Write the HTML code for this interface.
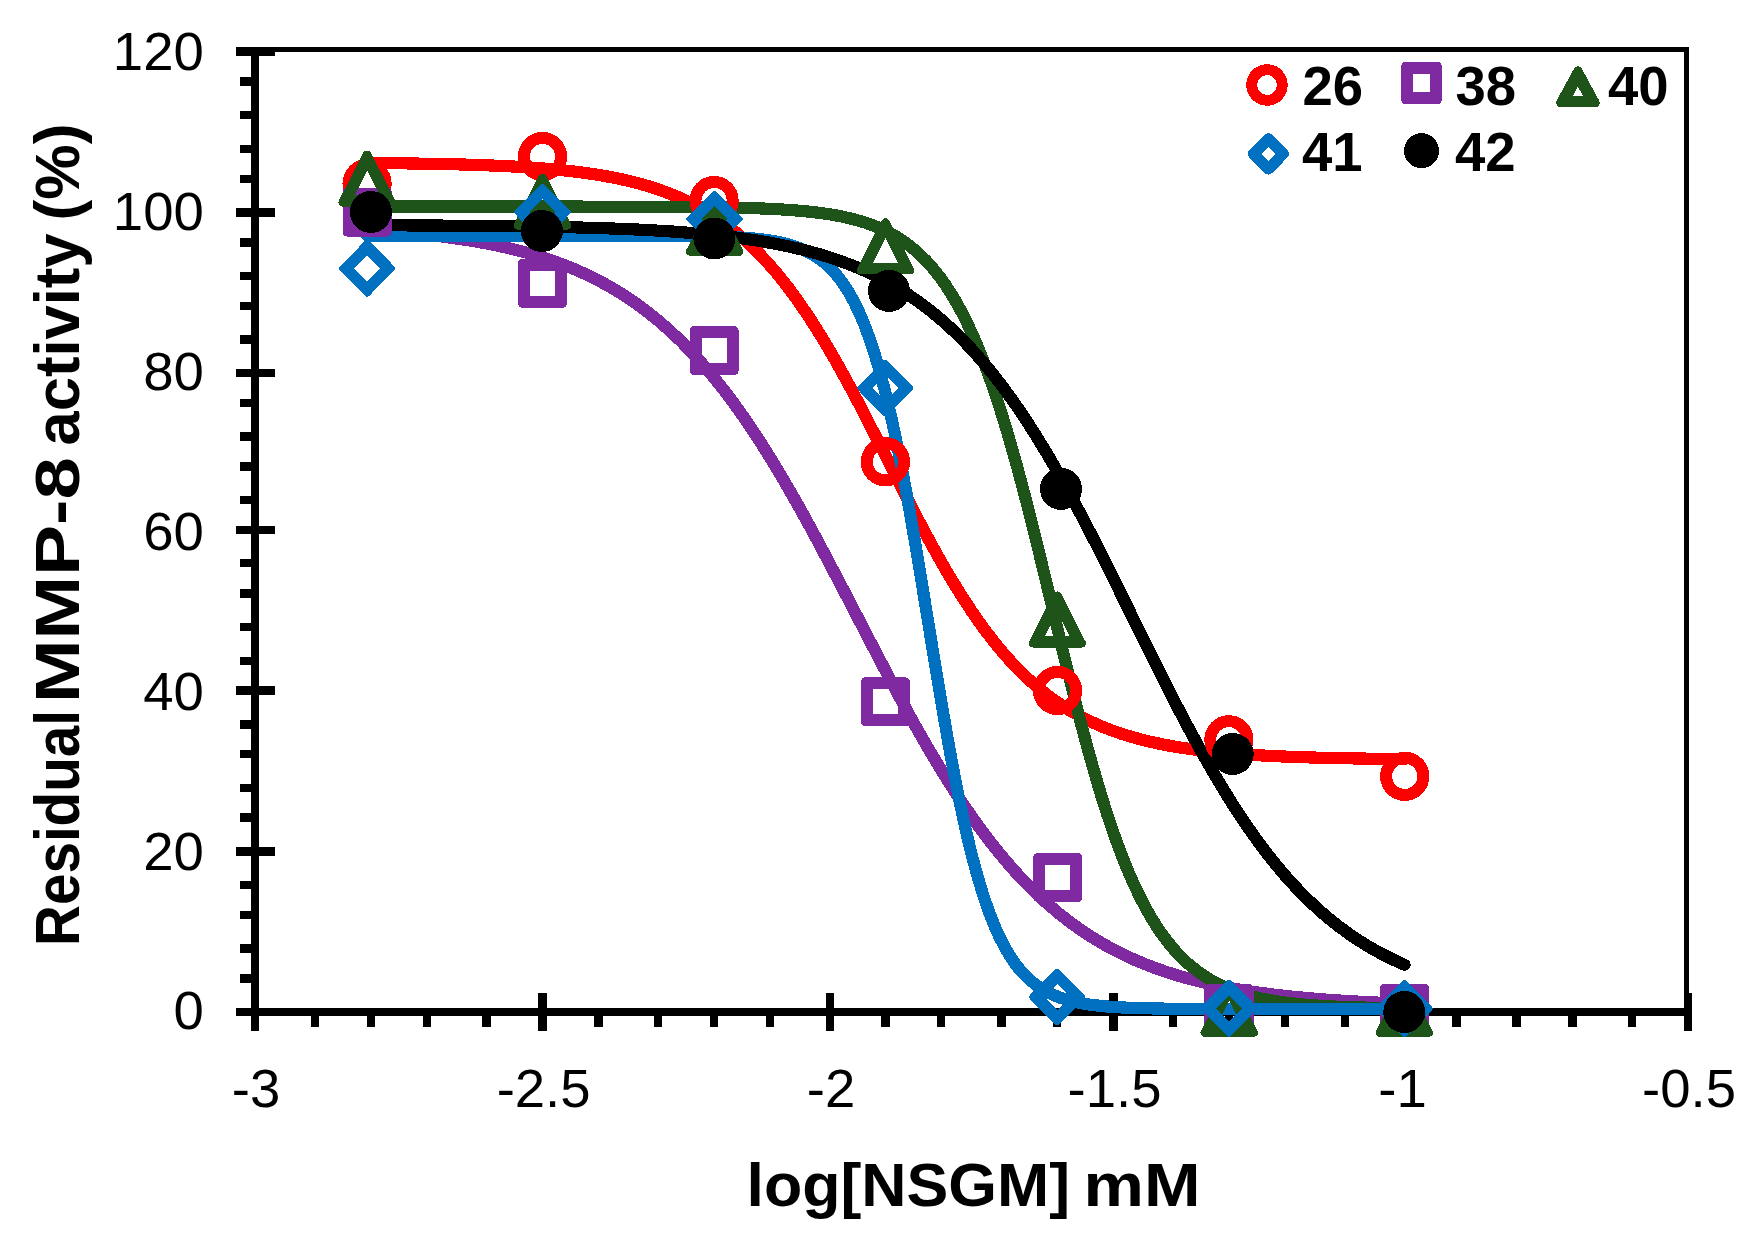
<!DOCTYPE html>
<html lang="en">
<head>
<meta charset="utf-8">
<title>Residual MMP-8 activity vs log[NSGM]</title>
<style>
html,body{margin:0;padding:0;background:#fff;}
body{width:1754px;height:1236px;overflow:hidden;}
svg{display:block;}
.t{font-family:"Liberation Sans",sans-serif;fill:#000;}
.b{font-weight:bold;}
</style>
</head>
<body>
<svg width="1754" height="1236" viewBox="0 0 1754 1236">
<rect x="0" y="0" width="1754" height="1236" fill="#fff"/>
<g fill="#000" shape-rendering="crispEdges">
<rect x="236" y="47" width="1453" height="5"/>
<rect x="1684" y="47" width="5" height="984"/>
<rect x="251" y="47" width="8" height="984"/>
<rect x="236" y="1008" width="1456" height="8"/>
<rect x="236" y="47.2" width="39" height="8.6"/>
<rect x="240" y="77.3" width="12" height="8.3"/>
<rect x="240" y="110.8" width="12" height="8.3"/>
<rect x="240" y="144.8" width="12" height="8.3"/>
<rect x="240" y="174.8" width="12" height="8.3"/>
<rect x="236" y="208.1" width="39" height="8.6"/>
<rect x="240" y="238.2" width="12" height="8.3"/>
<rect x="240" y="271.8" width="12" height="8.3"/>
<rect x="240" y="301.7" width="12" height="8.3"/>
<rect x="240" y="335.2" width="12" height="8.3"/>
<rect x="236" y="368.6" width="39" height="8.6"/>
<rect x="240" y="398.8" width="12" height="8.3"/>
<rect x="240" y="432.4" width="12" height="8.3"/>
<rect x="240" y="462.2" width="12" height="8.3"/>
<rect x="240" y="495.8" width="12" height="8.3"/>
<rect x="236" y="525.5" width="39" height="8.6"/>
<rect x="240" y="559.1" width="12" height="8.3"/>
<rect x="240" y="589.4" width="12" height="8.3"/>
<rect x="240" y="622.8" width="12" height="8.3"/>
<rect x="240" y="656.9" width="12" height="8.3"/>
<rect x="236" y="686.1" width="39" height="8.6"/>
<rect x="240" y="720.2" width="12" height="8.3"/>
<rect x="240" y="749.9" width="12" height="8.3"/>
<rect x="240" y="783.9" width="12" height="8.3"/>
<rect x="240" y="813.2" width="12" height="8.3"/>
<rect x="236" y="847.2" width="39" height="8.6"/>
<rect x="240" y="880.6" width="12" height="8.3"/>
<rect x="240" y="910.9" width="12" height="8.3"/>
<rect x="240" y="944.4" width="12" height="8.3"/>
<rect x="240" y="974.4" width="12" height="8.3"/>
<rect x="236" y="1007.7" width="39" height="8.6"/>
<rect x="250.7" y="993" width="8.6" height="38"/>
<rect x="310.9" y="1015" width="8.2" height="12"/>
<rect x="367" y="1015" width="8.2" height="12"/>
<rect x="423" y="1015" width="8.2" height="12"/>
<rect x="482.3" y="1015" width="8.2" height="12"/>
<rect x="538.3" y="993" width="8.6" height="38"/>
<rect x="594.4" y="1015" width="8.2" height="12"/>
<rect x="653.9" y="1015" width="8.2" height="12"/>
<rect x="709.9" y="1015" width="8.2" height="12"/>
<rect x="765.8" y="1015" width="8.2" height="12"/>
<rect x="825.7" y="993" width="8.6" height="38"/>
<rect x="881.3" y="1015" width="8.2" height="12"/>
<rect x="937" y="1015" width="8.2" height="12"/>
<rect x="997.3" y="1015" width="8.2" height="12"/>
<rect x="1053.2" y="1015" width="8.2" height="12"/>
<rect x="1109.2" y="993" width="8.6" height="38"/>
<rect x="1168.7" y="1015" width="8.2" height="12"/>
<rect x="1224.9" y="1015" width="8.2" height="12"/>
<rect x="1280.8" y="1015" width="8.2" height="12"/>
<rect x="1340.5" y="1015" width="8.2" height="12"/>
<rect x="1397.2" y="993" width="8.6" height="38"/>
<rect x="1452.3" y="1015" width="8.2" height="12"/>
<rect x="1512.4" y="1015" width="8.2" height="12"/>
<rect x="1568.4" y="1015" width="8.2" height="12"/>
<rect x="1627.9" y="1015" width="8.2" height="12"/>
<rect x="1683.7" y="993" width="8.6" height="38"/>
</g>
<g class="t" font-size="54.5">
<text x="203.8" y="1029.4" text-anchor="end">0</text>
<text x="203.8" y="869.6" text-anchor="end">20</text>
<text x="203.8" y="709.7" text-anchor="end">40</text>
<text x="203.8" y="549.9" text-anchor="end">60</text>
<text x="203.8" y="390.1" text-anchor="end">80</text>
<text x="203.8" y="230.3" text-anchor="end">100</text>
<text x="203.8" y="70.4" text-anchor="end">120</text>
<text x="256" y="1107" text-anchor="middle">-3</text>
<text x="543.6" y="1107" text-anchor="middle">-2.5</text>
<text x="831" y="1107" text-anchor="middle">-2</text>
<text x="1114.5" y="1107" text-anchor="middle">-1.5</text>
<text x="1402.5" y="1107" text-anchor="middle">-1</text>
<text x="1689" y="1107" text-anchor="middle">-0.5</text>
</g>
<text class="t b" font-size="61.5" y="1205.6"><tspan x="746.5" textLength="323.5" lengthAdjust="spacingAndGlyphs">log[NSGM]</tspan> <tspan x="1083.5" textLength="117.0" lengthAdjust="spacingAndGlyphs">mM</tspan></text>
<text class="t b" font-size="62.5" transform="translate(79.1 942.6) rotate(-90)"><tspan x="-3.4" textLength="236.0" lengthAdjust="spacingAndGlyphs">Residual</tspan> <tspan x="239.6" textLength="246.0" lengthAdjust="spacingAndGlyphs">MMP-8</tspan> <tspan x="497.1" textLength="212.0" lengthAdjust="spacingAndGlyphs">activity</tspan> <tspan x="722.1" textLength="97.0" lengthAdjust="spacingAndGlyphs">(%)</tspan></text>
<g fill="none" stroke-width="12.2" stroke-linecap="round" stroke-linejoin="round" shape-rendering="crispEdges">
<path d="M367.10 163.00 C374.30 163.06 381.51 163.12 388.71 163.20 C395.92 163.27 403.12 163.36 410.33 163.46 C417.53 163.56 424.73 163.68 431.94 163.81 C439.14 163.94 446.35 164.09 453.55 164.27 C460.75 164.45 467.96 164.65 475.16 164.89 C482.37 165.12 489.57 165.39 496.78 165.71 C503.98 166.02 511.18 166.38 518.39 166.79 C525.59 167.21 532.80 167.68 540.00 168.23 C547.20 168.79 554.41 169.41 561.61 170.14 C568.82 170.87 576.02 171.70 583.22 172.67 C590.43 173.63 597.63 174.73 604.84 176.00 C612.04 177.27 619.25 178.71 626.45 180.37 C633.65 182.04 640.86 183.93 648.06 186.10 C655.27 188.28 662.47 190.74 669.67 193.56 C676.88 196.38 684.08 199.57 691.29 203.20 C698.49 206.83 705.70 210.91 712.90 215.54 C720.10 220.17 727.31 225.34 734.51 231.15 C741.72 236.97 748.92 243.43 756.12 250.61 C763.33 257.80 770.53 265.71 777.74 274.41 C784.94 283.11 792.15 292.59 799.35 302.86 C806.55 313.13 813.76 324.18 820.96 335.95 C828.17 347.72 835.37 360.20 842.58 373.24 C849.78 386.28 856.98 399.87 864.19 413.79 C871.39 427.70 878.60 441.94 885.80 456.21 C893.00 470.47 900.21 484.77 907.41 498.82 C914.62 512.86 921.82 526.65 929.03 539.92 C936.23 553.20 943.43 565.97 950.64 578.05 C957.84 590.13 965.05 601.52 972.25 612.14 C979.45 622.76 986.66 632.60 993.86 641.65 C1001.07 650.70 1008.27 658.97 1015.47 666.48 C1022.68 674.00 1029.88 680.77 1037.09 686.88 C1044.29 692.99 1051.50 698.44 1058.70 703.31 C1065.90 708.19 1073.11 712.50 1080.31 716.34 C1087.52 720.18 1094.72 723.55 1101.92 726.54 C1109.13 729.53 1116.33 732.14 1123.54 734.45 C1130.74 736.76 1137.95 738.77 1145.15 740.54 C1152.35 742.31 1159.56 743.84 1166.76 745.19 C1173.97 746.54 1181.17 747.70 1188.38 748.73 C1195.58 749.76 1202.78 750.64 1209.99 751.42 C1217.19 752.19 1224.40 752.86 1231.60 753.45 C1238.80 754.04 1246.01 754.54 1253.21 754.99 C1260.42 755.43 1267.62 755.81 1274.82 756.15 C1282.03 756.48 1289.23 756.77 1296.44 757.02 C1303.64 757.27 1310.85 757.49 1318.05 757.67 C1325.25 757.86 1332.46 758.03 1339.66 758.17 C1346.87 758.31 1354.07 758.43 1361.28 758.54 C1368.48 758.65 1375.68 758.74 1382.89 758.82 C1390.09 758.90 1397.30 758.97 1404.50 759.03" stroke="#FF0000"/>
<path d="M367.10 229.86 C374.30 230.30 381.51 230.78 388.71 231.32 C395.92 231.86 403.12 232.45 410.33 233.12 C417.53 233.78 424.73 234.51 431.94 235.33 C439.14 236.15 446.35 237.05 453.55 238.06 C460.75 239.06 467.96 240.17 475.16 241.40 C482.37 242.63 489.57 243.99 496.78 245.50 C503.98 247.01 511.18 248.67 518.39 250.52 C525.59 252.36 532.80 254.39 540.00 256.63 C547.20 258.88 554.41 261.34 561.61 264.07 C568.82 266.79 576.02 269.78 583.22 273.07 C590.43 276.36 597.63 279.96 604.84 283.91 C612.04 287.87 619.25 292.18 626.45 296.90 C633.65 301.62 640.86 306.75 648.06 312.34 C655.27 317.93 662.47 323.99 669.67 330.55 C676.88 337.11 684.08 344.19 691.29 351.81 C698.49 359.43 705.70 367.60 712.90 376.34 C720.10 385.08 727.31 394.39 734.51 404.27 C741.72 414.15 748.92 424.61 756.12 435.60 C763.33 446.59 770.53 458.13 777.74 470.14 C784.94 482.15 792.15 494.64 799.35 507.51 C806.55 520.38 813.76 533.63 820.96 547.14 C828.17 560.64 835.37 574.40 842.58 588.26 C849.78 602.12 856.98 616.08 864.19 629.99 C871.39 643.89 878.60 657.75 885.80 671.39 C893.00 685.03 900.21 698.46 907.41 711.55 C914.62 724.64 921.82 737.38 929.03 749.67 C936.23 761.96 943.43 773.80 950.64 785.12 C957.84 796.43 965.05 807.22 972.25 817.44 C979.45 827.66 986.66 837.32 993.86 846.40 C1001.07 855.49 1008.27 864.00 1015.47 871.95 C1022.68 879.91 1029.88 887.30 1037.09 894.18 C1044.29 901.05 1051.50 907.40 1058.70 913.28 C1065.90 919.15 1073.11 924.55 1080.31 929.52 C1087.52 934.50 1094.72 939.04 1101.92 943.22 C1109.13 947.39 1116.33 951.20 1123.54 954.68 C1130.74 958.16 1137.95 961.32 1145.15 964.20 C1152.35 967.09 1159.56 969.70 1166.76 972.08 C1173.97 974.46 1181.17 976.62 1188.38 978.57 C1195.58 980.53 1202.78 982.30 1209.99 983.90 C1217.19 985.50 1224.40 986.95 1231.60 988.26 C1238.80 989.57 1246.01 990.75 1253.21 991.81 C1260.42 992.88 1267.62 993.84 1274.82 994.71 C1282.03 995.58 1289.23 996.36 1296.44 997.07 C1303.64 997.78 1310.85 998.41 1318.05 998.99 C1325.25 999.56 1332.46 1000.08 1339.66 1000.54 C1346.87 1001.01 1354.07 1001.42 1361.28 1001.80 C1368.48 1002.18 1375.68 1002.52 1382.89 1002.82 C1390.09 1003.13 1397.30 1003.40 1404.50 1003.65" stroke="#7F2AA0"/>
<path d="M367.10 206.56 C374.30 206.56 381.51 206.56 388.71 206.56 C395.92 206.56 403.12 206.56 410.33 206.56 C417.53 206.56 424.73 206.56 431.94 206.56 C439.14 206.56 446.35 206.56 453.55 206.56 C460.75 206.56 467.96 206.57 475.16 206.57 C482.37 206.57 489.57 206.57 496.78 206.57 C503.98 206.57 511.18 206.57 518.39 206.57 C525.59 206.57 532.80 206.58 540.00 206.58 C547.20 206.58 554.41 206.59 561.61 206.59 C568.82 206.60 576.02 206.60 583.22 206.61 C590.43 206.61 597.63 206.62 604.84 206.63 C612.04 206.64 619.25 206.66 626.45 206.68 C633.65 206.69 640.86 206.71 648.06 206.74 C655.27 206.77 662.47 206.80 669.67 206.84 C676.88 206.88 684.08 206.94 691.29 207.00 C698.49 207.07 705.70 207.15 712.90 207.25 C720.10 207.35 727.31 207.48 734.51 207.64 C741.72 207.80 748.92 208.00 756.12 208.25 C763.33 208.51 770.53 208.81 777.74 209.21 C784.94 209.60 792.15 210.09 799.35 210.70 C806.55 211.32 813.76 212.07 820.96 213.03 C828.17 214.00 835.37 215.17 842.58 216.66 C849.78 218.15 856.98 219.97 864.19 222.28 C871.39 224.58 878.60 227.38 885.80 230.92 C893.00 234.46 900.21 238.73 907.41 244.09 C914.62 249.45 921.82 255.89 929.03 263.85 C936.23 271.82 943.43 281.32 950.64 292.86 C957.84 304.39 965.05 317.97 972.25 334.03 C979.45 350.08 986.66 368.64 993.86 389.81 C1001.07 410.99 1008.27 434.80 1015.47 460.81 C1022.68 486.82 1029.88 515.02 1037.09 544.31 C1044.29 573.60 1051.50 603.94 1058.70 633.85 C1065.90 663.76 1073.11 693.20 1080.31 720.85 C1087.52 748.50 1094.72 774.33 1101.92 797.63 C1109.13 820.94 1116.33 841.71 1123.54 859.88 C1130.74 878.04 1137.95 893.61 1145.15 906.93 C1152.35 920.25 1159.56 931.34 1166.76 940.67 C1173.97 950.01 1181.17 957.61 1188.38 963.96 C1195.58 970.30 1202.78 975.38 1209.99 979.60 C1217.19 983.81 1224.40 987.16 1231.60 989.92 C1238.80 992.68 1246.01 994.86 1253.21 996.65 C1260.42 998.45 1267.62 999.85 1274.82 1001.01 C1282.03 1002.17 1289.23 1003.07 1296.44 1003.82 C1303.64 1004.56 1310.85 1005.14 1318.05 1005.62 C1325.25 1006.09 1332.46 1006.46 1339.66 1006.77 C1346.87 1007.07 1354.07 1007.31 1361.28 1007.51 C1368.48 1007.70 1375.68 1007.85 1382.89 1007.98 C1390.09 1008.10 1397.30 1008.20 1404.50 1008.28" stroke="#1E5319"/>
<path d="M367.10 235.56 C374.30 235.56 381.51 235.56 388.71 235.56 C395.92 235.56 403.12 235.56 410.33 235.56 C417.53 235.56 424.73 235.56 431.94 235.56 C439.14 235.56 446.35 235.56 453.55 235.56 C460.75 235.56 467.96 235.56 475.16 235.56 C482.37 235.56 489.57 235.56 496.78 235.56 C503.98 235.56 511.18 235.56 518.39 235.56 C525.59 235.56 532.80 235.56 540.00 235.56 C547.20 235.56 554.41 235.56 561.61 235.56 C568.82 235.56 576.02 235.57 583.22 235.57 C590.43 235.57 597.63 235.58 604.84 235.58 C612.04 235.59 619.25 235.60 626.45 235.61 C633.65 235.62 640.86 235.63 648.06 235.66 C655.27 235.68 662.47 235.71 669.67 235.76 C676.88 235.80 684.08 235.86 691.29 235.96 C698.49 236.05 705.70 236.17 712.90 236.36 C720.10 236.54 727.31 236.78 734.51 237.15 C741.72 237.51 748.92 238.00 756.12 238.72 C763.33 239.45 770.53 240.41 777.74 241.84 C784.94 243.28 792.15 245.18 799.35 247.99 C806.55 250.80 813.76 254.52 820.96 259.96 C828.17 265.39 835.37 272.54 842.58 282.73 C849.78 292.91 856.98 306.17 864.19 324.23 C871.39 342.28 878.60 365.25 885.80 394.26 C893.00 423.28 900.21 458.47 907.41 498.38 C914.62 538.29 921.82 582.82 929.03 627.29 C936.23 671.76 943.43 715.86 950.64 755.09 C957.84 794.32 965.05 828.61 972.25 856.74 C979.45 884.87 986.66 906.99 993.86 924.34 C1001.07 941.68 1008.27 954.36 1015.47 964.10 C1022.68 973.83 1029.88 980.64 1037.09 985.82 C1044.29 991.00 1051.50 994.54 1058.70 997.21 C1065.90 999.89 1073.11 1001.69 1080.31 1003.06 C1087.52 1004.42 1094.72 1005.33 1101.92 1006.02 C1109.13 1006.71 1116.33 1007.17 1123.54 1007.52 C1130.74 1007.87 1137.95 1008.10 1145.15 1008.27 C1152.35 1008.45 1159.56 1008.56 1166.76 1008.65 C1173.97 1008.74 1181.17 1008.80 1188.38 1008.84 C1195.58 1008.88 1202.78 1008.91 1209.99 1008.93 C1217.19 1008.96 1224.40 1008.97 1231.60 1008.98 C1238.80 1008.99 1246.01 1009.00 1253.21 1009.01 C1260.42 1009.01 1267.62 1009.02 1274.82 1009.02 C1282.03 1009.02 1289.23 1009.02 1296.44 1009.02 C1303.64 1009.03 1310.85 1009.03 1318.05 1009.03 C1325.25 1009.03 1332.46 1009.03 1339.66 1009.03 C1346.87 1009.03 1354.07 1009.03 1361.28 1009.03 C1368.48 1009.03 1375.68 1009.03 1382.89 1009.03 C1390.09 1009.03 1397.30 1009.03 1404.50 1009.03" stroke="#0070C0"/>
<path d="M367.10 225.27 C374.30 225.29 381.51 225.31 388.71 225.34 C395.92 225.36 403.12 225.39 410.33 225.43 C417.53 225.46 424.73 225.49 431.94 225.54 C439.14 225.58 446.35 225.62 453.55 225.67 C460.75 225.72 467.96 225.78 475.16 225.84 C482.37 225.91 489.57 225.98 496.78 226.06 C503.98 226.13 511.18 226.22 518.39 226.32 C525.59 226.42 532.80 226.53 540.00 226.66 C547.20 226.78 554.41 226.92 561.61 227.07 C568.82 227.23 576.02 227.40 583.22 227.60 C590.43 227.79 597.63 228.01 604.84 228.25 C612.04 228.49 619.25 228.76 626.45 229.06 C633.65 229.37 640.86 229.70 648.06 230.08 C655.27 230.46 662.47 230.88 669.67 231.35 C676.88 231.82 684.08 232.35 691.29 232.94 C698.49 233.52 705.70 234.18 712.90 234.91 C720.10 235.64 727.31 236.46 734.51 237.37 C741.72 238.28 748.92 239.29 756.12 240.42 C763.33 241.55 770.53 242.81 777.74 244.21 C784.94 245.61 792.15 247.16 799.35 248.90 C806.55 250.63 813.76 252.55 820.96 254.69 C828.17 256.83 835.37 259.19 842.58 261.81 C849.78 264.44 856.98 267.33 864.19 270.54 C871.39 273.75 878.60 277.28 885.80 281.18 C893.00 285.09 900.21 289.37 907.41 294.08 C914.62 298.80 921.82 303.95 929.03 309.59 C936.23 315.24 943.43 321.39 950.64 328.09 C957.84 334.79 965.05 342.04 972.25 349.90 C979.45 357.76 986.66 366.22 993.86 375.31 C1001.07 384.40 1008.27 394.13 1015.47 404.48 C1022.68 414.84 1029.88 425.83 1037.09 437.41 C1044.29 449.00 1051.50 461.19 1058.70 473.90 C1065.90 486.61 1073.11 499.84 1080.31 513.48 C1087.52 527.12 1094.72 541.17 1101.92 555.47 C1109.13 569.77 1116.33 584.32 1123.54 598.95 C1130.74 613.58 1137.95 628.29 1145.15 642.88 C1152.35 657.48 1159.56 671.96 1166.76 686.16 C1173.97 700.36 1181.17 714.27 1188.38 727.75 C1195.58 741.24 1202.78 754.29 1209.99 766.80 C1217.19 779.31 1224.40 791.27 1231.60 802.63 C1238.80 813.99 1246.01 824.74 1253.21 834.86 C1260.42 844.97 1267.62 854.45 1274.82 863.31 C1282.03 872.16 1289.23 880.39 1296.44 888.02 C1303.64 895.65 1310.85 902.68 1318.05 909.18 C1325.25 915.67 1332.46 921.61 1339.66 927.07 C1346.87 932.54 1354.07 937.51 1361.28 942.06 C1368.48 946.61 1375.68 950.74 1382.89 954.50 C1390.09 958.27 1397.30 961.67 1404.50 964.76" stroke="#000000"/>
</g>
<g shape-rendering="crispEdges">
<circle cx="367.1" cy="183.5" r="18.6" fill="none" stroke="#FF0000" stroke-width="12"/>
<circle cx="542.5" cy="156.5" r="18.6" fill="none" stroke="#FF0000" stroke-width="12"/>
<circle cx="714.1" cy="200.6" r="18.6" fill="none" stroke="#FF0000" stroke-width="12"/>
<circle cx="885.4" cy="461.8" r="18.6" fill="none" stroke="#FF0000" stroke-width="12"/>
<circle cx="1057.5" cy="690.5" r="18.6" fill="none" stroke="#FF0000" stroke-width="12"/>
<circle cx="1228.9" cy="739.8" r="18.6" fill="none" stroke="#FF0000" stroke-width="12"/>
<circle cx="1404.7" cy="776.3" r="18.6" fill="none" stroke="#FF0000" stroke-width="12"/>
<path d="M342.50 192.10 A4.60 4.60 0 0 1 347.10 187.50 L387.10 187.50 A4.60 4.60 0 0 1 391.70 192.10 L391.70 231.90 A4.60 4.60 0 0 1 387.10 236.50 L347.10 236.50 A4.60 4.60 0 0 1 342.50 231.90Z M354.50 199.40 L354.50 224.60 L379.70 224.60 L379.70 199.40Z" fill="#7F2AA0" fill-rule="evenodd"/>
<path d="M517.90 263.40 A4.60 4.60 0 0 1 522.50 258.80 L562.50 258.80 A4.60 4.60 0 0 1 567.10 263.40 L567.10 303.20 A4.60 4.60 0 0 1 562.50 307.80 L522.50 307.80 A4.60 4.60 0 0 1 517.90 303.20Z M529.90 270.70 L529.90 295.90 L555.10 295.90 L555.10 270.70Z" fill="#7F2AA0" fill-rule="evenodd"/>
<path d="M689.50 330.70 A4.60 4.60 0 0 1 694.10 326.10 L734.10 326.10 A4.60 4.60 0 0 1 738.70 330.70 L738.70 370.50 A4.60 4.60 0 0 1 734.10 375.10 L694.10 375.10 A4.60 4.60 0 0 1 689.50 370.50Z M701.50 338.00 L701.50 363.20 L726.70 363.20 L726.70 338.00Z" fill="#7F2AA0" fill-rule="evenodd"/>
<path d="M860.80 681.90 A4.60 4.60 0 0 1 865.40 677.30 L905.40 677.30 A4.60 4.60 0 0 1 910.00 681.90 L910.00 721.70 A4.60 4.60 0 0 1 905.40 726.30 L865.40 726.30 A4.60 4.60 0 0 1 860.80 721.70Z M872.80 689.20 L872.80 714.40 L898.00 714.40 L898.00 689.20Z" fill="#7F2AA0" fill-rule="evenodd"/>
<path d="M1033.10 857.70 A4.60 4.60 0 0 1 1037.70 853.10 L1077.70 853.10 A4.60 4.60 0 0 1 1082.30 857.70 L1082.30 897.50 A4.60 4.60 0 0 1 1077.70 902.10 L1037.70 902.10 A4.60 4.60 0 0 1 1033.10 897.50Z M1045.10 865.00 L1045.10 890.20 L1070.30 890.20 L1070.30 865.00Z" fill="#7F2AA0" fill-rule="evenodd"/>
<path d="M1204.30 988.60 A4.60 4.60 0 0 1 1208.90 984.00 L1248.90 984.00 A4.60 4.60 0 0 1 1253.50 988.60 L1253.50 1028.40 A4.60 4.60 0 0 1 1248.90 1033.00 L1208.90 1033.00 A4.60 4.60 0 0 1 1204.30 1028.40Z M1216.30 995.90 L1216.30 1021.10 L1241.50 1021.10 L1241.50 995.90Z" fill="#7F2AA0" fill-rule="evenodd"/>
<path d="M1379.90 988.60 A4.60 4.60 0 0 1 1384.50 984.00 L1424.50 984.00 A4.60 4.60 0 0 1 1429.10 988.60 L1429.10 1028.40 A4.60 4.60 0 0 1 1424.50 1033.00 L1384.50 1033.00 A4.60 4.60 0 0 1 1379.90 1028.40Z M1391.90 995.90 L1391.90 1021.10 L1417.10 1021.10 L1417.10 995.90Z" fill="#7F2AA0" fill-rule="evenodd"/>
<path d="M363.09 152.97 A4.50 4.50 0 0 1 371.11 152.97 L395.42 200.89 A4.00 4.00 0 0 1 391.85 206.70 L342.35 206.70 A4.00 4.00 0 0 1 338.78 200.89Z M367.10 170.60 L354.90 194.80 L379.30 194.80Z" fill="#1E5319" fill-rule="evenodd"/>
<path d="M538.49 176.07 A4.50 4.50 0 0 1 546.51 176.07 L570.82 223.99 A4.00 4.00 0 0 1 567.25 229.80 L517.75 229.80 A4.00 4.00 0 0 1 514.18 223.99Z M542.50 193.70 L530.30 217.90 L554.70 217.90Z" fill="#1E5319" fill-rule="evenodd"/>
<path d="M710.59 202.07 A4.50 4.50 0 0 1 718.61 202.07 L742.92 249.99 A4.00 4.00 0 0 1 739.35 255.80 L689.85 255.80 A4.00 4.00 0 0 1 686.28 249.99Z M714.60 219.70 L702.40 243.90 L726.80 243.90Z" fill="#1E5319" fill-rule="evenodd"/>
<path d="M881.49 220.67 A4.50 4.50 0 0 1 889.51 220.67 L913.82 268.59 A4.00 4.00 0 0 1 910.25 274.40 L860.75 274.40 A4.00 4.00 0 0 1 857.18 268.59Z M885.50 238.30 L873.30 262.50 L897.70 262.50Z" fill="#1E5319" fill-rule="evenodd"/>
<path d="M1053.29 593.77 A4.50 4.50 0 0 1 1061.31 593.77 L1085.62 641.69 A4.00 4.00 0 0 1 1082.05 647.50 L1032.55 647.50 A4.00 4.00 0 0 1 1028.98 641.69Z M1057.30 611.40 L1045.10 635.60 L1069.50 635.60Z" fill="#1E5319" fill-rule="evenodd"/>
<path d="M1225.19 983.07 A4.50 4.50 0 0 1 1233.21 983.07 L1257.52 1030.99 A4.00 4.00 0 0 1 1253.95 1036.80 L1204.45 1036.80 A4.00 4.00 0 0 1 1200.88 1030.99Z M1229.20 1000.70 L1217.00 1024.90 L1241.40 1024.90Z" fill="#1E5319" fill-rule="evenodd"/>
<path d="M1400.39 983.07 A4.50 4.50 0 0 1 1408.41 983.07 L1432.72 1030.99 A4.00 4.00 0 0 1 1429.15 1036.80 L1379.65 1036.80 A4.00 4.00 0 0 1 1376.08 1030.99Z M1404.40 1000.70 L1392.20 1024.90 L1416.60 1024.90Z" fill="#1E5319" fill-rule="evenodd"/>
<path d="M364.97 240.97 A3.00 3.00 0 0 1 369.23 240.97 L394.26 266.29 A3.00 3.00 0 0 1 394.26 270.51 L369.23 295.83 A3.00 3.00 0 0 1 364.97 295.83 L339.94 270.51 A3.00 3.00 0 0 1 339.94 266.29Z M367.10 255.30 L354.00 268.40 L367.10 281.50 L380.20 268.40Z" fill="#0070C0" fill-rule="evenodd"/>
<path d="M540.37 184.77 A3.00 3.00 0 0 1 544.63 184.77 L569.66 210.09 A3.00 3.00 0 0 1 569.66 214.31 L544.63 239.63 A3.00 3.00 0 0 1 540.37 239.63 L515.34 214.31 A3.00 3.00 0 0 1 515.34 210.09Z M542.50 199.10 L529.40 212.20 L542.50 225.30 L555.60 212.20Z" fill="#0070C0" fill-rule="evenodd"/>
<path d="M712.37 191.67 A3.00 3.00 0 0 1 716.63 191.67 L741.66 216.99 A3.00 3.00 0 0 1 741.66 221.21 L716.63 246.53 A3.00 3.00 0 0 1 712.37 246.53 L687.34 221.21 A3.00 3.00 0 0 1 687.34 216.99Z M714.50 206.00 L701.40 219.10 L714.50 232.20 L727.60 219.10Z" fill="#0070C0" fill-rule="evenodd"/>
<path d="M883.27 360.67 A3.00 3.00 0 0 1 887.53 360.67 L912.56 385.99 A3.00 3.00 0 0 1 912.56 390.21 L887.53 415.53 A3.00 3.00 0 0 1 883.27 415.53 L858.24 390.21 A3.00 3.00 0 0 1 858.24 385.99Z M885.40 375.00 L872.30 388.10 L885.40 401.20 L898.50 388.10Z" fill="#0070C0" fill-rule="evenodd"/>
<path d="M1055.07 969.57 A3.00 3.00 0 0 1 1059.33 969.57 L1084.36 994.89 A3.00 3.00 0 0 1 1084.36 999.11 L1059.33 1024.43 A3.00 3.00 0 0 1 1055.07 1024.43 L1030.04 999.11 A3.00 3.00 0 0 1 1030.04 994.89Z M1057.20 983.90 L1044.10 997.00 L1057.20 1010.10 L1070.30 997.00Z" fill="#0070C0" fill-rule="evenodd"/>
<path d="M1226.87 980.87 A3.00 3.00 0 0 1 1231.13 980.87 L1256.16 1006.19 A3.00 3.00 0 0 1 1256.16 1010.41 L1231.13 1035.73 A3.00 3.00 0 0 1 1226.87 1035.73 L1201.84 1010.41 A3.00 3.00 0 0 1 1201.84 1006.19Z M1229.00 995.20 L1215.90 1008.30 L1229.00 1021.40 L1242.10 1008.30Z" fill="#0070C0" fill-rule="evenodd"/>
<path d="M1402.27 980.97 A3.00 3.00 0 0 1 1406.53 980.97 L1431.56 1006.29 A3.00 3.00 0 0 1 1431.56 1010.51 L1406.53 1035.83 A3.00 3.00 0 0 1 1402.27 1035.83 L1377.24 1010.51 A3.00 3.00 0 0 1 1377.24 1006.29Z M1404.40 995.30 L1391.30 1008.40 L1404.40 1021.50 L1417.50 1008.40Z" fill="#0070C0" fill-rule="evenodd"/>
<circle cx="370.9" cy="212.0" r="21" fill="#000000"/>
<circle cx="541.9" cy="231.0" r="21" fill="#000000"/>
<circle cx="714.4" cy="238.5" r="21" fill="#000000"/>
<circle cx="889.0" cy="290.9" r="21" fill="#000000"/>
<circle cx="1061.0" cy="488.9" r="21" fill="#000000"/>
<circle cx="1232.7" cy="754.0" r="21" fill="#000000"/>
<circle cx="1404.3" cy="1012.0" r="21" fill="#000000"/>
</g>
<g shape-rendering="crispEdges">
<circle cx="1267" cy="85" r="15.3" fill="none" stroke="#FF0000" stroke-width="10.9"/>
<path d="M1401.05 66.55 A4.80 4.80 0 0 1 1405.85 61.75 L1437.15 61.75 A4.80 4.80 0 0 1 1441.95 66.55 L1441.95 99.45 A4.80 4.80 0 0 1 1437.15 104.25 L1405.85 104.25 A4.80 4.80 0 0 1 1401.05 99.45Z M1412.60 74.10 L1412.60 91.90 L1430.40 91.90 L1430.40 74.10Z" fill="#7F2AA0" fill-rule="evenodd"/>
<path d="M1573.94 68.71 A4.50 4.50 0 0 1 1581.86 68.71 L1599.12 100.56 A4.50 4.50 0 0 1 1595.16 107.20 L1560.64 107.20 A4.50 4.50 0 0 1 1556.68 100.56Z M1577.90 86.70 L1572.80 95.90 L1583.00 95.90Z" fill="#1E5319" fill-rule="evenodd"/>
<path d="M1264.85 134.65 A5.00 5.00 0 0 1 1271.95 134.65 L1287.57 150.38 A5.00 5.00 0 0 1 1287.57 157.42 L1271.95 173.15 A5.00 5.00 0 0 1 1264.85 173.15 L1249.23 157.42 A5.00 5.00 0 0 1 1249.23 150.38Z M1268.40 147.10 L1261.60 153.90 L1268.40 160.70 L1275.20 153.90Z" fill="#0070C0" fill-rule="evenodd"/>
<circle cx="1421.5" cy="150.7" r="17.5" fill="#000"/>
</g>
<g class="t b" font-size="56">
<text x="1302.5" y="105" textLength="60.6" lengthAdjust="spacingAndGlyphs">26</text>
<text x="1455.5" y="105" textLength="60.6" lengthAdjust="spacingAndGlyphs">38</text>
<text x="1608" y="105" textLength="60.6" lengthAdjust="spacingAndGlyphs">40</text>
<text x="1302" y="171.2" textLength="60.6" lengthAdjust="spacingAndGlyphs">41</text>
<text x="1455" y="171.2" textLength="60.6" lengthAdjust="spacingAndGlyphs">42</text>
</g>
</svg>
</body>
</html>
